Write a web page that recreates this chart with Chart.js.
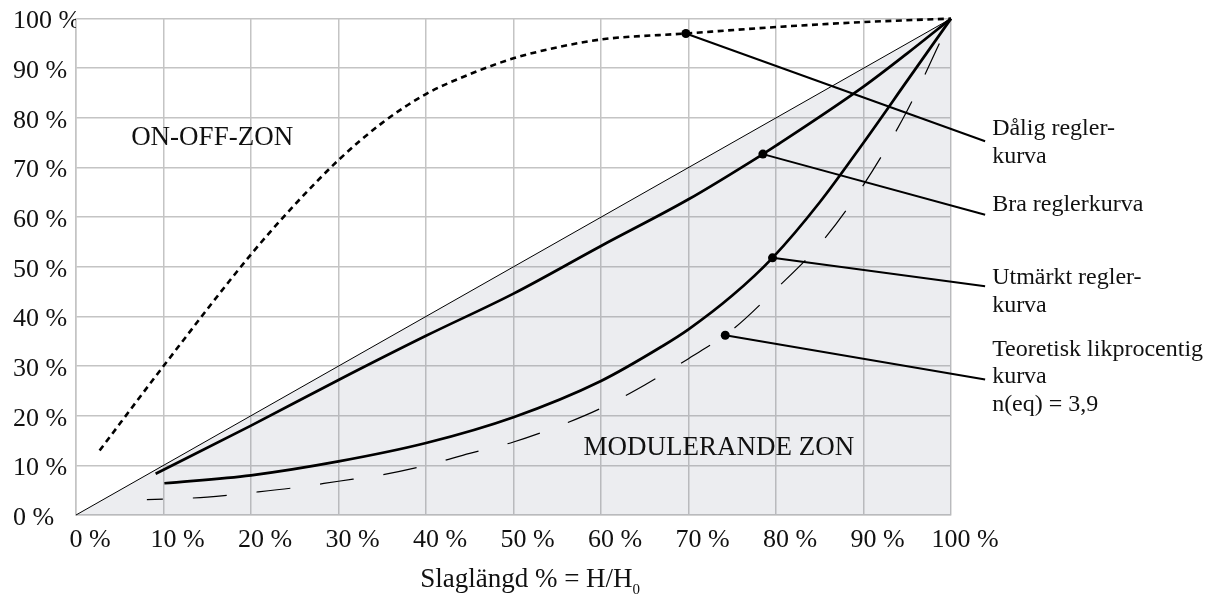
<!DOCTYPE html>
<html><head><meta charset="utf-8">
<script src="https://cdn.jsdelivr.net/npm/chart.js@4.4.1/dist/chart.umd.min.js"></script>
<style>html,body{margin:0;padding:0;background:#fff;}#wrap{width:1212px;height:601px;}</style>
</head><body><div id="wrap"><canvas id="c" width="1212" height="601"></canvas></div>
<script>
// ---- data (percent) ----
const tickValues = [0, 10, 20, 30, 40, 50, 60, 70, 80, 90, 100];
const diagonalX = [0, 100];
const diagonalY = [0, 100];
const badX = [2.7, 10, 20, 25, 30, 35, 40, 45, 50, 55, 60, 69.7, 80, 90, 100];
const badY = [13, 30, 52.5, 62.5, 71.5, 79, 84.8, 88.8, 92, 94.2, 95.8, 97, 98.3, 99.3, 100];
const goodX = [9.1, 20, 30, 40, 50, 60, 70, 78.5, 80, 90, 95, 100];
const goodY = [8.3, 18, 27.2, 36.1, 44.6, 54.2, 63.6, 72.7, 74.4, 86.3, 93, 100];
const excellentX = [10.1, 20, 30, 40, 50, 60, 67, 70, 75, 79.6, 85, 90, 95, 100];
const excellentY = [6.4, 8, 10.8, 14.5, 19.7, 27, 34, 37.4, 44.2, 51.8, 63, 75, 87.5, 100];
const theoryX = [8.1, 15, 20, 25, 30, 35, 40, 45, 50, 55, 60, 65, 70, 75, 80, 85, 90, 95, 100];
const theoryY = [3.1, 3.6, 4.5, 5.5, 6.8, 8.1, 10, 12.4, 14.7, 17.8, 21.5, 26.2, 31.5, 37.3, 45.5, 54.5, 66.5, 81.5, 100];
const leaderBadX = [69.7, 103.9];       const leaderBadY = [97, 75.3];
const leaderGoodX = [78.5, 103.9];      const leaderGoodY = [72.7, 60.5];
const leaderExcellentX = [79.6, 103.9]; const leaderExcellentY = [51.8, 46.1];
const leaderTheoryX = [74.2, 103.9];    const leaderTheoryY = [36.2, 27.3];
const labelBad = ['Dålig regler-', 'kurva'];
const labelGood = ['Bra reglerkurva'];
const labelExcellent = ['Utmärkt regler-', 'kurva'];
const labelTheory = ['Teoretisk likprocentig', 'kurva', 'n(eq) = 3,9'];
const zoneOnOff = 'ON-OFF-ZON';
const zoneModulating = 'MODULERANDE ZON';
const axisTitleMain = 'Slaglängd % = H/H';
const axisTitleSub = '0';

const pts = (xs, ys) => xs.map((x, i) => ({x: x, y: ys[i]}));
const SERIF = '"Liberation Serif", "Times New Roman", serif';

const textPlugin = {
  id: 'texts',
  afterDraw(chart) {
    const {ctx, scales: {x, y}, chartArea} = chart;
    ctx.save();
    ctx.fillStyle = '#111';
    ctx.textBaseline = 'alphabetic';
    ctx.textAlign = 'left';
    ctx.font = '27px ' + SERIF;
    ctx.fillText(zoneOnOff, x.getPixelForValue(6.3), y.getPixelForValue(74.6));
    ctx.fillText(zoneModulating, x.getPixelForValue(58.0), y.getPixelForValue(12.0));
    ctx.font = '24px ' + SERIF;
    const lx = x.getPixelForValue(104.7);
    const block = (lines, yv) => {
      const y0 = y.getPixelForValue(yv);
      lines.forEach((t, i) => ctx.fillText(t, lx, y0 + i * 27.8));
    };
    block(labelBad, 76.6);
    block(labelGood, 61.2);
    block(labelExcellent, 46.5);
    block(labelTheory, 32.1);
    // axis title with subscript
    ctx.font = '27px ' + SERIF;
    const wMain = ctx.measureText(axisTitleMain).width;
    ctx.font = '15px ' + SERIF;
    const wSub = ctx.measureText(axisTitleSub).width;
    const cx = x.getPixelForValue(51.9);
    const base = chartArea.bottom + 72;
    const startX = cx - (wMain + wSub) / 2;
    ctx.font = '27px ' + SERIF;
    ctx.fillText(axisTitleMain, startX, base);
    ctx.font = '15px ' + SERIF;
    ctx.fillText(axisTitleSub, startX + wMain, base + 7);
    ctx.restore();
  }
};

const lineBase = {borderColor: '#000', pointRadius: 0, fill: false, clip: false};
const leader = (xs, ys) => Object.assign({}, lineBase, {
  data: pts(xs, ys), borderWidth: 2, tension: 0,
  pointRadius: [4.5, 0], pointBackgroundColor: '#000', pointBorderWidth: 0, order: 1
});

new Chart(document.getElementById('c'), {
  type: 'line',
  data: {
    datasets: [
      Object.assign({}, lineBase, {data: pts(diagonalX, diagonalY), borderWidth: 1, tension: 0,
        fill: 'start', backgroundColor: 'rgba(120,128,150,0.14)', order: 10}),
      Object.assign({}, lineBase, {data: pts(badX, badY), borderWidth: 2.6, borderDash: [6, 4.5],
        cubicInterpolationMode: 'monotone', order: 5}),
      Object.assign({}, lineBase, {data: pts(goodX, goodY), borderWidth: 2.7,
        cubicInterpolationMode: 'monotone', order: 5}),
      Object.assign({}, lineBase, {data: pts(excellentX, excellentY), borderWidth: 2.7,
        cubicInterpolationMode: 'monotone', order: 5}),
      Object.assign({}, lineBase, {data: pts(theoryX, theoryY), borderWidth: 1.2, borderDash: [34, 30],
        borderDashOffset: 18, cubicInterpolationMode: 'monotone', order: 6}),
      leader(leaderBadX, leaderBadY),
      leader(leaderGoodX, leaderGoodY),
      leader(leaderExcellentX, leaderExcellentY),
      leader(leaderTheoryX, leaderTheoryY)
    ]
  },
  options: {
    responsive: false,
    animation: false,
    devicePixelRatio: 1,
    layout: {padding: {left: 13, right: 261, top: 17, bottom: 0}},
    plugins: {legend: {display: false}, tooltip: {enabled: false}, title: {display: false}},
    scales: {
      x: {
        type: 'linear', min: 0, max: 100,
        afterBuildTicks(s) { s.ticks = tickValues.map(v => ({value: v})); },
        afterFit(s) { s.height = 86; },
        grid: {color: '#c4c4c4', lineWidth: 1.5, drawTicks: false},
        border: {color: '#c4c4c4', width: 1.5},
        ticks: {color: '#111', font: {family: SERIF, size: 26}, padding: 10, labelOffset: 14,
          maxRotation: 0, autoSkip: false, callback: v => v + ' %'}
      },
      y: {
        type: 'linear', min: 0, max: 100,
        afterBuildTicks(s) { s.ticks = tickValues.map(v => ({value: v})); },
        afterFit(s) { s.width = 63; },
        grid: {color: '#c4c4c4', lineWidth: 1.5, drawTicks: false},
        border: {color: '#c4c4c4', width: 1.5},
        ticks: {color: '#111', font: {family: SERIF, size: 26}, crossAlign: 'far', labelOffset: 3,
          autoSkip: false, callback: v => v + ' %'}
      }
    }
  },
  plugins: [textPlugin]
});
</script></body></html>
